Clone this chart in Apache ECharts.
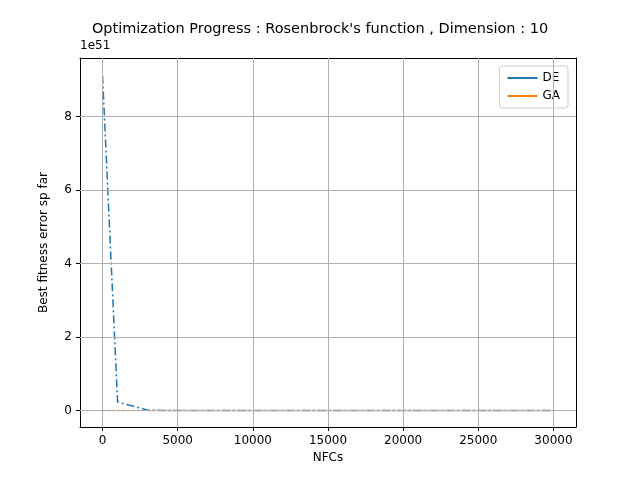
<!doctype html>
<html>
<head>
<meta charset="utf-8">
<script src="https://cdn.jsdelivr.net/npm/echarts@6/dist/echarts.min.js"></script>
<style>html,body{margin:0;padding:0;background:#fff}#main{width:640px;height:480px}</style>
</head>
<body>
<div id="main"></div>
<script>
// values in units of 1e51
var nfcs = [];
for (var i = 0; i <= 30; i++) nfcs.push(i * 1000);
var deValues = [9.12, 0.23, 0.12, 0.01, 0, 0, 0, 0, 0, 0, 0, 0, 0, 0, 0, 0, 0, 0, 0, 0, 0, 0, 0, 0, 0, 0, 0, 0, 0, 0, 0];
var gaValues = [0, 0, 0, 0, 0, 0, 0, 0, 0, 0, 0, 0, 0, 0, 0, 0, 0, 0, 0, 0, 0, 0, 0, 0, 0, 0, 0, 0, 0, 0, 0];
var xTicks = [0, 5000, 10000, 15000, 20000, 25000, 30000];
var yTicks = [0, 2, 4, 6, 8];

var font = 'DejaVu Sans';
var chart = echarts.init(document.getElementById('main'));
var lineIcon = 'path://M0,4L30,4L30,6L0,6Z';
chart.setOption({
    animation: false,
    textStyle: {fontFamily: font},
    title: {
        text: "Optimization Progress : Rosenbrock's function , Dimension : 10",
        left: 'center', top: 17,
        textStyle: {fontSize: 14.5, fontWeight: 'normal', color: '#000', fontFamily: font}
    },
    graphic: [{
        type: 'text', left: 80, top: 40,
        style: {text: '1e51', fontSize: 12, fill: '#000', fontFamily: font}
    }],
    legend: {
        right: 72, top: 66, orient: 'vertical',
        backgroundColor: '#fff', borderColor: '#ccc', borderWidth: 1, borderRadius: 3,
        padding: [6, 8], itemGap: 6, itemWidth: 30, itemHeight: 10,
        textStyle: {fontSize: 12, color: '#000'},
        data: [{name: 'DE', icon: lineIcon}, {name: 'GA', icon: lineIcon}]
    },
    grid: {left: 80, right: 64, top: 58, bottom: 53},
    xAxis: [{
        type: 'value', min: -1500, max: 31500,
        name: 'NFCs', nameLocation: 'middle', nameGap: 25,
        nameTextStyle: {fontSize: 12, color: '#000'},
        axisLine: {onZero: false, lineStyle: {color: '#000'}},
        axisTick: {show: true, length: 4, customValues: xTicks, lineStyle: {color: '#000'}},
        axisLabel: {color: '#000', fontSize: 12, customValues: xTicks,
            formatter: function (v) { return String(v); }},
        splitLine: {show: false}
    }, {
        type: 'value', position: 'top', min: -1500, max: 31500,
        axisLine: {show: true, onZero: false, lineStyle: {color: '#000'}},
        axisTick: {show: false}, axisLabel: {show: false}, splitLine: {show: false}
    }],
    yAxis: [{
        type: 'value', min: -0.45, max: 9.6,
        name: 'Best fitness error sp far', nameLocation: 'middle', nameGap: 30,
        nameTextStyle: {fontSize: 12, color: '#000'},
        axisLine: {show: true, onZero: false, lineStyle: {color: '#000'}},
        axisTick: {show: true, length: 4, customValues: yTicks, lineStyle: {color: '#000'}},
        axisLabel: {color: '#000', fontSize: 12, customValues: yTicks},
        splitLine: {show: false}
    }, {
        type: 'value', position: 'right', min: -0.45, max: 9.6,
        axisLine: {show: true, onZero: false, lineStyle: {color: '#000'}},
        axisTick: {show: false}, axisLabel: {show: false}, splitLine: {show: false}
    }],
    series: [{
        name: 'grid', type: 'line', data: [], z: 1, silent: true,
        markLine: {
            silent: true, symbol: 'none', label: {show: false}, animation: false,
            lineStyle: {color: '#b0b0b0', type: 'solid', width: 1},
            data: xTicks.map(function (v) { return {xAxis: v}; })
                .concat(yTicks.map(function (v) { return {yAxis: v}; }))
        }
    }, {
        name: 'DE', type: 'line', showSymbol: false, symbol: 'none',
        color: '#1f77b4',
        lineStyle: {width: 1.5, type: [8, 3, 2, 3], color: '#1f77b4'},
        data: nfcs.map(function (x, i) { return [x, deValues[i]]; }),
        z: 3
    }, {
        name: 'GA', type: 'line', showSymbol: false, symbol: 'none',
        color: '#ff7f0e',
        lineStyle: {width: 1.5, type: [2, 3], color: '#ff7f0e'},
        data: nfcs.map(function (x, i) { return [x, gaValues[i]]; }),
        z: 2
    }]
});
</script>
</body>
</html>
